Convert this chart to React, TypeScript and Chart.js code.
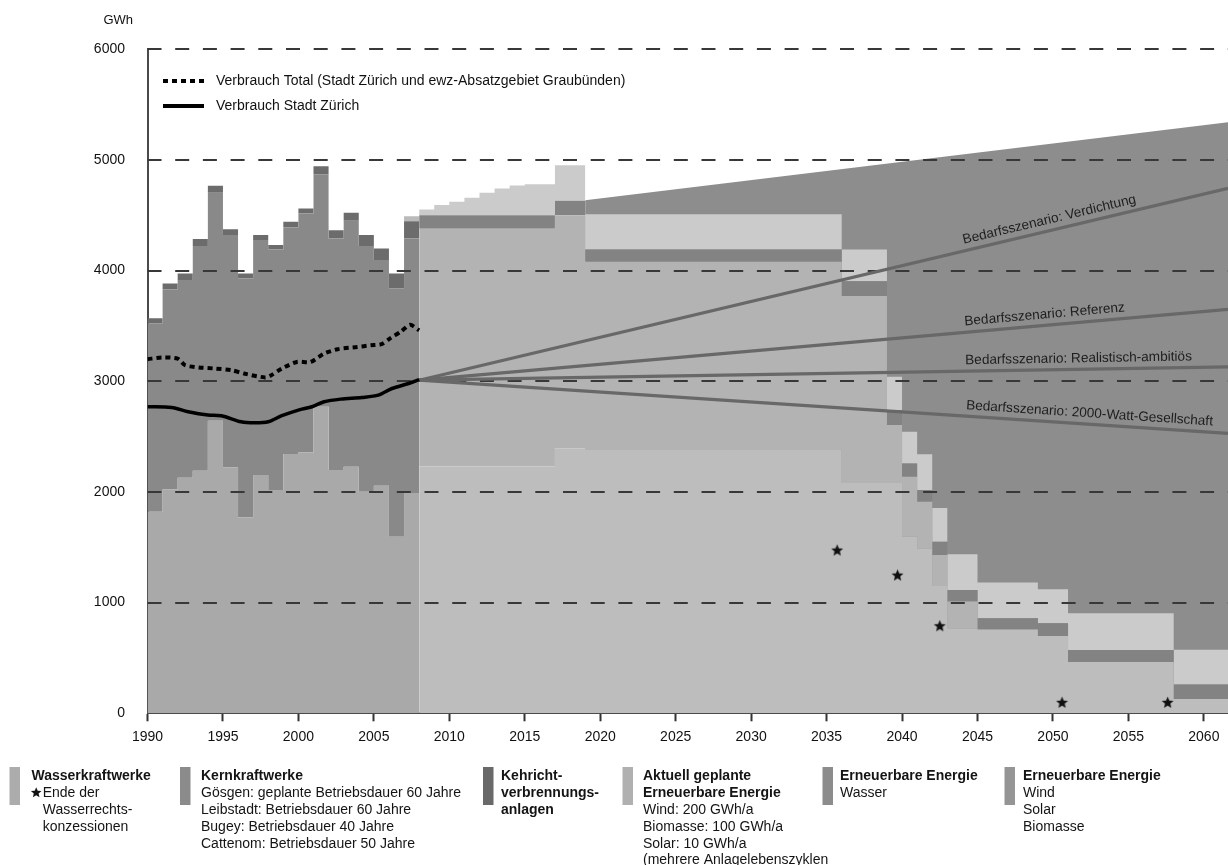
import React, { useEffect, useRef } from 'react';
import { Chart, registerables } from 'chart.js';

Chart.register(...registerables);

const W = 1228;
const H = 865;
const FONT = '"Liberation Sans", Arial, Helvetica, sans-serif';

const X_MIN = 1990;
const X_MAX = 2061.6;
const Y_MAX = 6000;

// ---------- Historical production 1990–2007 (top of each layer, GWh) ----------
const histYears = [1990, 1991, 1992, 1993, 1994, 1995, 1996, 1997, 1998, 1999, 2000, 2001, 2002, 2003, 2004, 2005, 2006, 2007];
const histEnd = 2008;
const histWasserTop = [1821, 2023, 2128, 2192, 2643, 2222, 1771, 2153, 2017, 2342, 2357, 2770, 2198, 2228, 2002, 2056, 1595, 1990];
const histKernTop = [3525, 3830, 3915, 4222, 4703, 4321, 3930, 4276, 4191, 4390, 4517, 4872, 4291, 4450, 4222, 4096, 3840, 4290];
const histKehrichtTop = [3570, 3884, 3975, 4285, 4766, 4375, 3975, 4321, 4231, 4441, 4562, 4944, 4366, 4522, 4321, 4201, 3975, 4446];
const histGeplantTop = [3570, 3884, 3975, 4285, 4766, 4375, 3975, 4321, 4231, 4441, 4562, 4944, 4366, 4522, 4321, 4201, 3975, 4492];

// ---------- Projection 2008 onwards (period starts, top of each layer, GWh) ----------
const futStart = [2008, 2009, 2010, 2011, 2012, 2013, 2014, 2015, 2017, 2019, 2036, 2039, 2040, 2041, 2042, 2043, 2045, 2049, 2051, 2058];
const futWasserTop = [2231, 2231, 2231, 2231, 2231, 2231, 2231, 2231, 2395, 2385, 2080, 2080, 1596, 1490, 1150, 767, 758, 698, 463, 130];
const futKernTop = [4378, 4378, 4378, 4378, 4378, 4378, 4378, 4378, 4501, 4080, 3770, 2604, 2138, 1912, 1430, 1010, 758, 698, 463, 130];
const futKehrichtTop = [4501, 4501, 4501, 4501, 4501, 4501, 4501, 4501, 4631, 4191, 3905, 2740, 2258, 2017, 1550, 1114, 858, 813, 572, 260];
const futGeplantTop = [4553, 4592, 4622, 4658, 4703, 4742, 4770, 4780, 4953, 4510, 4190, 3041, 2544, 2340, 1855, 1438, 1182, 1120, 903, 575];

// ---------- Erneuerbare Energie (Wind / Solar / Biomasse) ceiling ----------
const ernYears = [2019, X_MAX];
const ernTop = [4637, 5340];

// ---------- Consumption ----------
const totalYears = [1990.0, 1991.0, 1992.0, 1992.5, 1993.4, 1994.5, 1995.6, 1996.4, 1997.8, 1998.2, 1998.9, 1999.9, 2000.8, 2001.7, 2002.6, 2003.9, 2004.8, 2005.5, 2006.1, 2006.8, 2007.4, 2008.0];
const totalValues = [3200, 3215, 3205, 3145, 3125, 3115, 3100, 3070, 3035, 3055, 3115, 3175, 3175, 3250, 3290, 3310, 3325, 3335, 3390, 3450, 3510, 3460];
const stadtYears = [1990.0, 1991.6, 1992.7, 1994.0, 1994.9, 1996.2, 1997.1, 1998.0, 1998.9, 2000.0, 2000.9, 2001.7, 2002.8, 2004.2, 2005.3, 2006.2, 2007.3, 2008.0];
const stadtValues = [2770, 2764, 2725, 2695, 2689, 2634, 2625, 2634, 2689, 2740, 2770, 2815, 2839, 2854, 2875, 2935, 2980, 3015];

// ---------- Demand scenarios ----------
const scenarioNames = [
  'Bedarfsszenario: Verdichtung',
  'Bedarfsszenario: Referenz',
  'Bedarfsszenario: Realistisch-ambitiös',
  'Bedarfsszenario: 2000-Watt-Gesellschaft',
];
const scenarioStartYear = 2008;
const scenarioStartValue = 3010;
const scenarioEndValues = [4743, 3650, 3131, 2529];
const scenarioLabelYear = 2044.2;

// ---------- End of water concessions (stars) ----------
const starYears = [2035.7, 2039.7, 2042.5, 2050.6, 2057.6];
const starValues = [1475, 1249, 791, 99, 99];

// ---------- Ticks ----------
const xTickStep = 5;
const yTickStep = 1000;

// ---------- Legend texts ----------
const lineLegend = [
  'Verbrauch Total (Stadt Zürich und ewz-Absatzgebiet Graubünden)',
  'Verbrauch Stadt Zürich',
];

const legendItems = [
  { color: '#acacac', sx: 9.5, tx: 31.5, bx: 42.7, star: true, title: ['Wasserkraftwerke'], body: ['Ende der', 'Wasserrechts-', 'konzessionen'] },
  { color: '#8b8b8b', sx: 180, tx: 201, bx: 201, star: false, title: ['Kernkraftwerke'], body: ['Gösgen: geplante Betriebsdauer 60 Jahre', 'Leibstadt: Betriebsdauer 60 Jahre', 'Bugey: Betriebsdauer 40 Jahre', 'Cattenom: Betriebsdauer 50 Jahre'] },
  { color: '#696969', sx: 483, tx: 501, bx: 501, star: false, title: ['Kehricht-', 'verbrennungs-', 'anlagen'], body: [] },
  { color: '#b0b0b0', sx: 622.5, tx: 643, bx: 643, star: false, title: ['Aktuell geplante', 'Erneuerbare Energie'], body: ['Wind: 200 GWh/a', 'Biomasse: 100 GWh/a', 'Solar: 10 GWh/a', '(mehrere Anlagelebenszyklen'] },
  { color: '#8c8c8c', sx: 822.5, tx: 840, bx: 840, star: false, title: ['Erneuerbare Energie'], body: ['Wasser'] },
  { color: '#959595', sx: 1004.5, tx: 1023, bx: 1023, star: false, title: ['Erneuerbare Energie'], body: ['Wind', 'Solar', 'Biomasse'] },
];

const COL = {
  ern: '#8d8d8d',
  hW: '#a9a9a9',
  hK: '#898989',
  hH: '#6c6c6c',
  hA: '#bababa',
  fW: '#bdbdbd',
  fK: '#b3b3b3',
  fH: '#838383',
  fA: '#cbcbcb',
  scen: '#686868',
};

function steps(xs: number[], ys: number[], end: number) {
  const pts = xs.map((x, i) => ({ x, y: ys[i] }));
  pts.push({ x: end, y: ys[ys.length - 1] });
  return pts;
}

function pts(xs: number[], ys: number[]) {
  return xs.map((x, i) => ({ x, y: ys[i] }));
}

function drawStar(ctx: CanvasRenderingContext2D, cx: number, cy: number, r: number, color: string) {
  ctx.beginPath();
  for (let i = 0; i < 10; i++) {
    const rad = i % 2 === 0 ? r : r * 0.45;
    const a = -Math.PI / 2 + (i * Math.PI) / 5;
    const px = cx + rad * Math.cos(a);
    const py = cy + rad * Math.sin(a);
    if (i === 0) ctx.moveTo(px, py);
    else ctx.lineTo(px, py);
  }
  ctx.closePath();
  ctx.fillStyle = color;
  ctx.fill();
}

function makeStarCanvas(r: number) {
  const c = document.createElement('canvas');
  const s = Math.ceil(r * 2 + 2);
  c.width = s;
  c.height = s;
  const ctx = c.getContext('2d')!;
  drawStar(ctx, s / 2, s / 2 + 0.5, r, '#111');
  return c;
}

function area(label: string, data: any[], color: string, fill: any) {
  return {
    type: 'line',
    label,
    data,
    stepped: true,
    fill,
    backgroundColor: color,
    borderColor: 'rgba(0,0,0,0)',
    borderWidth: 0,
    pointRadius: 0,
    pointHitRadius: 0,
    order: 5,
  };
}

const gridPlugin = {
  id: 'dashGrid',
  beforeDatasetsDraw(chart: any) {
    chart.$gridDone = false;
  },
  beforeDatasetDraw(chart: any, args: any) {
    if (chart.$gridDone) return;
    if (args.meta.order > 1) return;
    chart.$gridDone = true;
    const { ctx, chartArea, scales } = chart;
    ctx.save();
    ctx.strokeStyle = '#383838';
    ctx.lineWidth = 2;
    ctx.setLineDash([14, 13.7]);
    scales.y.ticks.forEach((t: any) => {
      if (t.value <= 0) return;
      const y = Math.round(scales.y.getPixelForValue(t.value));
      ctx.beginPath();
      ctx.moveTo(chartArea.left, y);
      ctx.lineTo(chartArea.right, y);
      ctx.stroke();
    });
    ctx.restore();
  },
};

const textPlugin = {
  id: 'texts',
  afterDraw(chart: any) {
    const { ctx, scales } = chart;
    const xs = scales.x;
    const ys = scales.y;
    ctx.save();

    // unit label
    ctx.fillStyle = '#111';
    ctx.font = `13px ${FONT}`;
    ctx.textAlign = 'right';
    ctx.textBaseline = 'middle';
    ctx.fillText('GWh', 133, 20.5);

    // line legend inside the plot
    ctx.textAlign = 'left';
    ctx.font = `14px ${FONT}`;
    ctx.lineWidth = 4;
    ctx.strokeStyle = '#000';
    ctx.setLineDash([5, 4]);
    ctx.beginPath();
    ctx.moveTo(163, 81);
    ctx.lineTo(205, 81);
    ctx.stroke();
    ctx.setLineDash([]);
    ctx.beginPath();
    ctx.moveTo(163, 106);
    ctx.lineTo(204, 106);
    ctx.stroke();
    ctx.fillStyle = '#111';
    ctx.fillText(lineLegend[0], 216, 81);
    ctx.fillText(lineLegend[1], 216, 106);

    // scenario labels
    ctx.font = `13.6px ${FONT}`;
    ctx.fillStyle = '#1e1e1e';
    ctx.textBaseline = 'alphabetic';
    const x0 = xs.getPixelForValue(scenarioStartYear);
    const y0 = ys.getPixelForValue(scenarioStartValue);
    const x1 = xs.getPixelForValue(X_MAX);
    const lx = xs.getPixelForValue(scenarioLabelYear);
    scenarioNames.forEach((name, i) => {
      const y1 = ys.getPixelForValue(scenarioEndValues[i]);
      const ang = Math.atan2(y1 - y0, x1 - x0);
      const t = (lx - x0) / (x1 - x0);
      const ly = y0 + t * (y1 - y0);
      ctx.save();
      ctx.translate(lx, ly);
      ctx.rotate(ang);
      ctx.fillText(name, 0, -7);
      ctx.restore();
    });

    // bottom legend
    const rowY0 = 776.5;
    const rowH = 16.8;
    ctx.textBaseline = 'middle';
    legendItems.forEach((it) => {
      ctx.fillStyle = it.color;
      ctx.fillRect(it.sx, 767, 10.5, 38);
      let row = 0;
      ctx.fillStyle = '#141414';
      ctx.font = `bold 14px ${FONT}`;
      it.title.forEach((t) => {
        ctx.fillText(t, it.tx, rowY0 + row * rowH);
        row++;
      });
      ctx.font = `14px ${FONT}`;
      it.body.forEach((t, j) => {
        const y = rowY0 + row * rowH;
        if (it.star && j === 0) drawStar(ctx, 36.2, y - 0.5, 5.6, '#141414');
        ctx.fillStyle = '#141414';
        ctx.fillText(t, it.bx, y);
        row++;
      });
    });

    ctx.restore();
  },
};

export default function App() {
  const ref = useRef<HTMLCanvasElement>(null);

  useEffect(() => {
    const starImg = makeStarCanvas(6.2);

    const datasets: any[] = [
      // 0: ceiling of renewable fill (behind everything)
      { type: 'line', label: 'Erneuerbare Energie Wind Solar Biomasse', data: pts(ernYears, ernTop), fill: 'origin', backgroundColor: COL.ern, borderColor: 'rgba(0,0,0,0)', borderWidth: 0, pointRadius: 0, order: 10 },
      // 1-4: projection
      area('Wasserkraftwerke (Prognose)', steps(futStart, futWasserTop, X_MAX), COL.fW, 'origin'),
      area('Kernkraftwerke (Prognose)', steps(futStart, futKernTop, X_MAX), COL.fK, '-1'),
      area('Kehrichtverbrennung (Prognose)', steps(futStart, futKehrichtTop, X_MAX), COL.fH, '-1'),
      area('Aktuell geplante Erneuerbare', steps(futStart, futGeplantTop, X_MAX), COL.fA, '-1'),
      // 5-8: history
      area('Wasserkraftwerke', steps(histYears, histWasserTop, histEnd), COL.hW, 'origin'),
      area('Kernkraftwerke', steps(histYears, histKernTop, histEnd), COL.hK, '-1'),
      area('Kehrichtverbrennungsanlagen', steps(histYears, histKehrichtTop, histEnd), COL.hH, '-1'),
      area('Erneuerbare', steps(histYears, histGeplantTop, histEnd), COL.hA, '-1'),
      // consumption
      { type: 'line', label: lineLegend[0], data: pts(totalYears, totalValues), borderColor: '#000', borderWidth: 4, borderDash: [5, 4], tension: 0.25, pointRadius: 0, fill: false, order: 1 },
      { type: 'line', label: lineLegend[1], data: pts(stadtYears, stadtValues), borderColor: '#000', borderWidth: 3.5, tension: 0.3, pointRadius: 0, fill: false, order: 1 },
      // scenarios
      ...scenarioNames.map((name, i) => ({
        type: 'line',
        label: name,
        data: [
          { x: scenarioStartYear, y: scenarioStartValue },
          { x: X_MAX, y: scenarioEndValues[i] },
        ],
        borderColor: COL.scen,
        borderWidth: 3.2,
        pointRadius: 0,
        fill: false,
        order: 1,
      })),
      // stars
      { type: 'line', label: 'Ende der Wasserrechtskonzessionen', data: pts(starYears, starValues), showLine: false, pointStyle: starImg, pointRadius: 7, fill: false, order: 0 },
    ];

    const chart = new Chart(ref.current!, {
      type: 'line',
      data: { datasets },
      options: {
        responsive: false,
        animation: false,
        devicePixelRatio: 1,
        events: [],
        layout: { autoPadding: false, padding: { top: 49.3, right: 0, bottom: 0, left: 0 } },
        plugins: { legend: { display: false }, tooltip: { enabled: false } },
        scales: {
          x: {
            type: 'linear',
            min: X_MIN,
            max: X_MAX,
            z: 1,
            afterFit: (s: any) => {
              s.height = H - 713.3;
            },
            grid: { display: true, drawOnChartArea: false, drawTicks: true, tickLength: 8, tickWidth: 2, tickColor: '#333' },
            border: { display: true, color: '#4a4a4a', width: 2 },
            ticks: {
              stepSize: xTickStep,
              includeBounds: false,
              autoSkip: false,
              maxRotation: 0,
              padding: 7,
              color: '#111',
              font: { family: FONT, size: 14 },
              callback: (v: any) => String(v),
            },
          },
          y: {
            type: 'linear',
            min: 0,
            max: Y_MAX,
            z: 1,
            afterFit: (s: any) => {
              s.width = 147.5;
            },
            grid: { display: false },
            border: { display: true, color: '#4a4a4a', width: 2 },
            ticks: {
              stepSize: yTickStep,
              padding: 14.5,
              color: '#111',
              font: { family: FONT, size: 14 },
              callback: (v: any) => String(v),
            },
          },
        },
      } as any,
      plugins: [gridPlugin, textPlugin],
    } as any);

    return () => chart.destroy();
  }, []);

  return (
    <div style={{ position: 'absolute', left: 0, top: 0, width: W, height: H, background: '#fff' }}>
      <canvas ref={ref} width={W} height={H} style={{ width: W, height: H, display: 'block' }} />
    </div>
  );
}
